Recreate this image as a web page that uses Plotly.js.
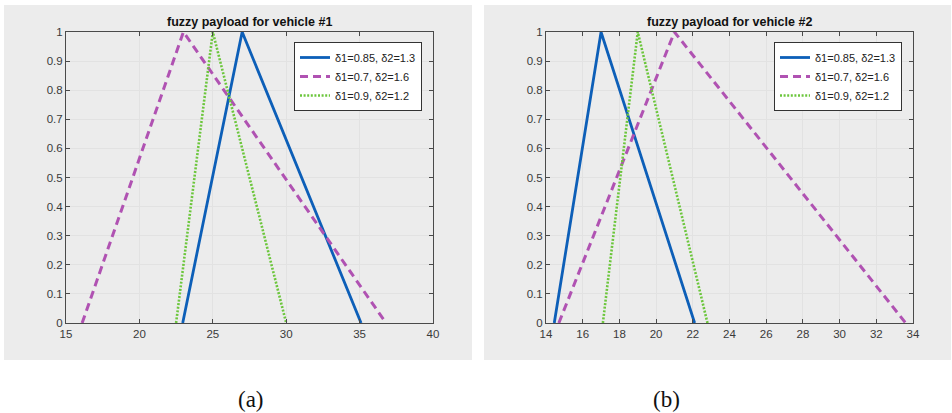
<!DOCTYPE html>
<html>
<head>
<meta charset="utf-8">
<script src="https://cdn.plot.ly/plotly-3.0.1.min.js"></script>
<style>
html,body{margin:0;padding:0;background:#fff;}
#chart{width:952px;height:413px;}
</style>
</head>
<body>
<div id="chart"></div>
<script>
// Data (triangular membership functions)
const seriesNames = ["δ1=0.85, δ2=1.3", "δ1=0.7, δ2=1.6", "δ1=0.9, δ2=1.2"];
const membership = [0, 1, 0];

// vehicle #1 payload triangles (left, peak, right)
const v1Blue = [22.95, 27, 35.1];
const v1Magenta = [16.1, 23, 36.8];
const v1Green = [22.5, 25, 30];

// vehicle #2 payload triangles
const v2Blue = [14.45, 17, 22.1];
const v2Magenta = [14.7, 21, 33.6];
const v2Green = [17.1, 19, 22.8];

const titles = ["fuzzy payload for vehicle #1", "fuzzy payload for vehicle #2"];
const captions = ["(a)", "(b)"];
const xTicks1 = [15, 20, 25, 30, 35, 40];
const xTicks2 = [14, 16, 18, 20, 22, 24, 26, 28, 30, 32, 34];
const yTicks = [0, 0.1, 0.2, 0.3, 0.4, 0.5, 0.6, 0.7, 0.8, 0.9, 1];
const yTickText = ["0", "0.1", "0.2", "0.3", "0.4", "0.5", "0.6", "0.7", "0.8", "0.9", "1"];

const styles = [
  {color: "#0d5fb8", width: 2.8, dash: "solid"},
  {color: "#b052b2", width: 3, dash: "8px,5px"},
  {color: "#6cc63c", width: 2.6, dash: "2px,1.6px"}
];

function mk(xs, i, xa, ya, leg) {
  return {
    x: xs, y: membership, type: "scatter", mode: "lines",
    name: seriesNames[i], xaxis: xa, yaxis: ya, legend: leg,
    line: {color: styles[i].color, width: styles[i].width, dash: styles[i].dash},
    hoverinfo: "skip"
  };
}

const traces = [
  mk(v1Blue, 0, "x", "y", "legend"),
  mk(v1Magenta, 1, "x", "y", "legend"),
  mk(v1Green, 2, "x", "y", "legend"),
  mk(v2Blue, 0, "x2", "y2", "legend2"),
  mk(v2Magenta, 1, "x2", "y2", "legend2"),
  mk(v2Green, 2, "x2", "y2", "legend2")
];

const W = 952, H = 413;
const px = v => v / W, py = v => (H - v) / H;
const SANS = "'Liberation Sans', Arial, sans-serif";
const tickFont = {family: SANS, size: 11.5, color: "#3a3a3a"};
const axisCommon = {
  showline: true, linecolor: "#4a4a4a", linewidth: 1, mirror: "ticks",
  ticks: "inside", ticklen: 4, tickcolor: "#4a4a4a", tickwidth: 1,
  showgrid: true, gridcolor: "#e2e2e2", gridwidth: 1, zeroline: false,
  tickfont: tickFont, fixedrange: true
};

const legendCommon = {
  bgcolor: "#ffffff", bordercolor: "#333333", borderwidth: 1,
  font: {family: SANS, size: 11, color: "#222"},
  xanchor: "right", yanchor: "top", itemwidth: 30, tracegroupgap: 0
};

const layout = {
  width: W, height: H,
  margin: {l: 0, r: 0, t: 0, b: 0},
  paper_bgcolor: "#ffffff", plot_bgcolor: "#ffffff",
  showlegend: true,
  xaxis: Object.assign({}, axisCommon, {domain: [px(66), px(433)], range: [15, 40], tickvals: xTicks1, anchor: "y"}),
  yaxis: Object.assign({}, axisCommon, {domain: [py(323), py(32)], range: [0, 1], tickvals: yTicks, ticktext: yTickText, anchor: "x"}),
  xaxis2: Object.assign({}, axisCommon, {domain: [px(546), px(913)], range: [14, 34], tickvals: xTicks2, anchor: "y2"}),
  yaxis2: Object.assign({}, axisCommon, {domain: [py(323), py(32)], range: [0, 1], tickvals: yTicks, ticktext: yTickText, anchor: "x2"}),
  legend: Object.assign({}, legendCommon, {x: px(422), y: py(42)}),
  legend2: Object.assign({}, legendCommon, {x: px(902), y: py(42)}),
  shapes: [
    {type: "rect", xref: "paper", yref: "paper", x0: px(4), x1: px(472), y0: py(360), y1: py(5),
     fillcolor: "#ececec", line: {width: 0}, layer: "below"},
    {type: "rect", xref: "paper", yref: "paper", x0: px(484), x1: px(951), y0: py(360), y1: py(5),
     fillcolor: "#ececec", line: {width: 0}, layer: "below"}
  ],
  annotations: [
    {text: "<b>" + titles[0] + "</b>", xref: "paper", yref: "paper", x: px(249.5), y: py(22), xanchor: "center", yanchor: "middle",
     showarrow: false, font: {family: SANS, size: 12.5, color: "#111"}},
    {text: "<b>" + titles[1] + "</b>", xref: "paper", yref: "paper", x: px(729.5), y: py(22), xanchor: "center", yanchor: "middle",
     showarrow: false, font: {family: SANS, size: 12.5, color: "#111"}},
    {text: captions[0], xref: "paper", yref: "paper", x: px(251), y: py(399), xanchor: "center", yanchor: "middle",
     showarrow: false, font: {family: "'Liberation Serif', 'Times New Roman', serif", size: 23, color: "#111"}},
    {text: captions[1], xref: "paper", yref: "paper", x: px(666), y: py(399), xanchor: "center", yanchor: "middle",
     showarrow: false, font: {family: "'Liberation Serif', 'Times New Roman', serif", size: 23, color: "#111"}}
  ]
};

Plotly.newPlot("chart", traces, layout, {staticPlot: true, displayModeBar: false});
</script>
</body>
</html>
